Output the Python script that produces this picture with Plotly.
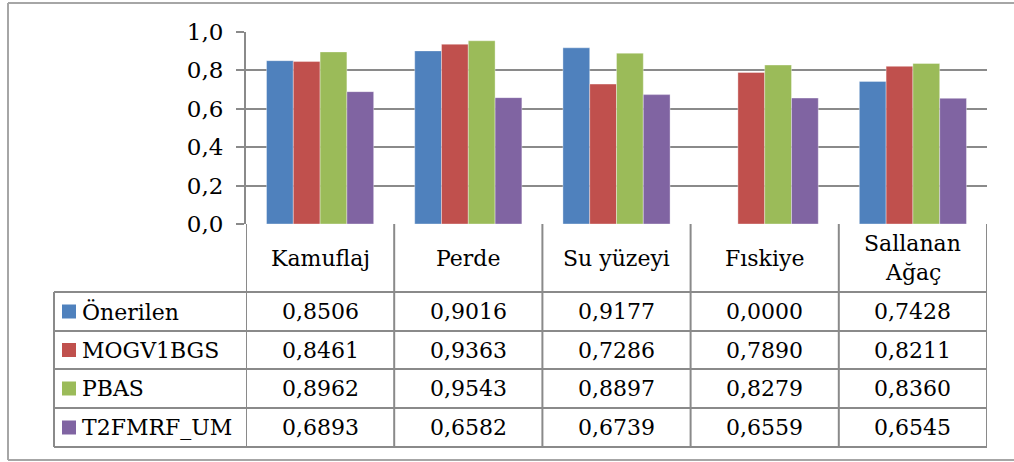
import plotly.graph_objects as go

# Data
categories = ["Kamuflaj", "Perde", "Su yüzeyi", "Fıskiye", "Sallanan Ağaç"]
header_lines = [["Kamuflaj"], ["Perde"], ["Su yüzeyi"], ["Fıskiye"], ["Sallanan", "Ağaç"]]
series_names = ["Önerilen", "MOGV1BGS", "PBAS", "T2FMRF_UM"]
onerilen = [0.8506, 0.9016, 0.9177, 0.0000, 0.7428]
mogv1bgs = [0.8461, 0.9363, 0.7286, 0.7890, 0.8211]
pbas = [0.8962, 0.9543, 0.8897, 0.8279, 0.8360]
t2fmrf_um = [0.6893, 0.6582, 0.6739, 0.6559, 0.6545]
series_values = [onerilen, mogv1bgs, pbas, t2fmrf_um]
colors = ["#4F81BD", "#C0504D", "#9BBB59", "#8064A2"]
y_ticks = [0.0, 0.2, 0.4, 0.6, 0.8, 1.0]

W, H = 1014, 462
FONT = "DejaVu Serif"
GRID = "#8a8a8a"
FS = 22


def px(x):
    return x / W


def py(y):
    return (H - y) / H


# Layout geometry (pixels)
plot_left, plot_right = 246, 987
plot_top, plot_bottom = 32, 224
table_left = 54
row_lines = [224, 292, 331, 369, 408, 447]
line_step = 30

fig = go.Figure()
for name, vals, col in zip(series_names, series_values, colors):
    fig.add_trace(go.Bar(
        x=categories, y=vals, name=name,
        marker=dict(color=col, line=dict(color="rgba(255,255,255,0.6)", width=0.6)),
        showlegend=False,
    ))

shapes = []
annotations = []

# outer frame (open on the right)
for x0, y0, x1, y1 in [(8, 3, W, 3), (8, 460, W, 460), (8, 3, 8, 460)]:
    shapes.append(dict(type="line", xref="paper", yref="paper",
                       x0=px(x0), y0=py(y0), x1=px(x1), y1=py(y1),
                       line=dict(color="#a6a6a6", width=2)))

# table vertical lines on category boundaries
for i in range(len(categories) + 1):
    shapes.append(dict(type="line", xref="x", yref="paper",
                       x0=i - 0.5, x1=i - 0.5, y0=py(row_lines[0]), y1=py(row_lines[-1]),
                       line=dict(color=GRID, width=2)))
# legend column left border
shapes.append(dict(type="line", xref="paper", yref="paper",
                   x0=px(table_left), x1=px(table_left),
                   y0=py(row_lines[1]), y1=py(row_lines[-1]),
                   line=dict(color=GRID, width=2)))
# table horizontal lines
for yl in row_lines[1:]:
    shapes.append(dict(type="line", xref="paper", yref="paper",
                       x0=px(table_left), x1=px(plot_right), y0=py(yl), y1=py(yl),
                       line=dict(color=GRID, width=2)))

# header row: category labels (multi-line labels stacked around the row centre)
hdr_mid = (row_lines[0] + row_lines[1]) / 2
for i, lines in enumerate(header_lines):
    n = len(lines)
    for k, txt in enumerate(lines):
        yc = hdr_mid + (k - (n - 1) / 2) * line_step
        annotations.append(dict(x=i, xref="x", y=py(yc), yref="paper",
                                text=txt, showarrow=False, xanchor="center", yanchor="middle",
                                font=dict(family=FONT, size=FS, color="black")))

# data rows with legend keys
for r, (name, vals, col) in enumerate(zip(series_names, series_values, colors)):
    mid = (row_lines[r + 1] + row_lines[r + 2]) / 2
    shapes.append(dict(type="rect", xref="paper", yref="paper",
                       x0=px(62), x1=px(76), y0=py(mid + 7), y1=py(mid - 7),
                       fillcolor=col, line=dict(width=0)))
    annotations.append(dict(x=px(80), xref="paper", y=py(mid), yref="paper",
                            text=name, showarrow=False, xanchor="left", yanchor="middle",
                            font=dict(family=FONT, size=FS, color="black")))
    for i, v in enumerate(vals):
        annotations.append(dict(x=i, xref="x", y=py(mid), yref="paper",
                                text=f"{v:.4f}".replace(".", ","), showarrow=False,
                                xanchor="center", yanchor="middle",
                                font=dict(family=FONT, size=FS, color="black")))

fig.update_layout(
    width=W, height=H,
    margin=dict(l=0, r=0, t=0, b=0, pad=0, autoexpand=False),
    paper_bgcolor="white", plot_bgcolor="white",
    separators=",.",
    font=dict(family=FONT, size=FS, color="black"),
    barmode="group", bargap=0.277, bargroupgap=0,
    xaxis=dict(domain=[px(plot_left), px(plot_right)], range=[-0.5, len(categories) - 0.5],
               showticklabels=False, showgrid=False, zeroline=False, showline=False,
               ticks="", fixedrange=True),
    yaxis=dict(domain=[py(plot_bottom), py(plot_top)], range=[0, 1.0],
               tickvals=y_ticks, tickformat=".1f",
               showgrid=True, gridcolor=GRID, gridwidth=2,
               zeroline=False, showline=True, linecolor=GRID, linewidth=2,
               ticks="outside", ticklen=8, tickcolor=GRID, tickwidth=2,
               ticklabelstandoff=8,
               tickfont=dict(family=FONT, size=FS + 1, color="black")),
    shapes=shapes,
    annotations=annotations,
)

fig.write_html("out.html")
